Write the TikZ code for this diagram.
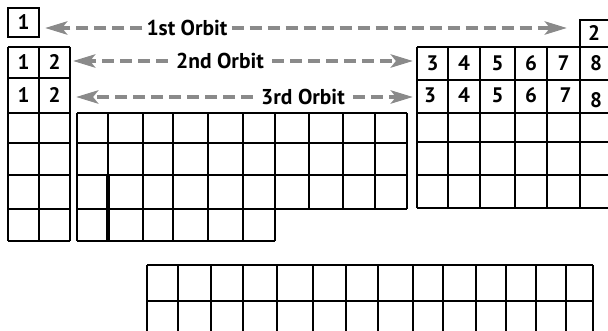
\documentclass[tikz,border=0pt]{standalone}
\usepackage{fontspec}
\setmainfont{PT Sans}
\usetikzlibrary{arrows.meta}
\definecolor{arrowgray}{HTML}{8A8A8A}
\tikzset{
  gridline/.style={line width=2pt, black},
  thickline/.style={line width=4pt, black},
  digit/.style={font=\bfseries\fontsize{21}{21}\selectfont, inner sep=0pt},
  orbitlabel/.style={font=\bfseries\fontsize{21.5}{21.5}\selectfont, inner sep=4pt},
  orbitarrow/.style={arrowgray, line width=4.5pt, dash pattern=on 12pt off 6pt,
     -{Stealth[length=22pt,width=13pt,inset=5pt]}},
}
\begin{document}
\begin{tikzpicture}[x=1pt,y=-1pt]
\useasboundingbox (0,0) rectangle (608,331);
\clip (0,0) rectangle (608,331);
% box 1
\draw[gridline] (8,8) rectangle (39,37);
\node[digit] (b1) at (23.5,22.5) {1};
% left column block
\foreach \x in {8,39,70} \draw[gridline] (\x,47) -- (\x,241);
\foreach \y in {47,78,113,143,175,209,241} \draw[gridline] (8,\y) -- (70,\y);
\node[digit] (l21) at (23.5,62.5) {1};
\node[digit] (l22) at (54.5,62.5) {2};
\node[digit] (l31) at (23.5,95) {1};
\node[digit] (l32) at (54.5,95) {2};
% middle block
\foreach \x in {77,108,143,173,208,243,275} \draw[gridline] (\x,113) -- (\x,241);
\foreach \x in {309,343,375,407} \draw[gridline] (\x,113) -- (\x,209);
\foreach \y in {113,143,175,209} \draw[gridline] (77,\y) -- (407,\y);
\draw[gridline] (77,241) -- (275,241);
\draw[thickline] (108,175) -- (108,241);
% right block
\foreach \x in {417,448,480,515,547,580,612} \draw[gridline] (\x,47) -- (\x,208);
\foreach \y in {47,80,113,142,175,208} \draw[gridline] (417,\y) -- (612,\y);
\draw[gridline] (580,47) -- (580,20) -- (612,20);
\node[digit] (r02) at (594,33.5) {2};
\foreach \d/\c in {3/432.5,4/464,5/497.5,6/531,7/563.5,8/596}{
  \node[digit] (ra\d) at (\c,63.5) {\d};
}
\foreach \d/\c in {3/430,4/464,5/497.5,6/531,7/565.5}{
  \node[digit] (rb\d) at (\c,95) {\d};
}
\node[digit] (rb8) at (596,100) {8};
% bottom block
\foreach \x in {147,178,211,243,277,313,346,378,413,443,476,506,536,566,593}
  \draw[gridline] (\x,265) -- (\x,340);
\foreach \y in {265,301} \draw[gridline] (147,\y) -- (593,\y);
% orbit arrows
\coordinate (o1l) at (45,28);
\coordinate (o1r) at (567,28);
\node[orbitlabel] (o1) at (187,28) {1st Orbit};
\draw[orbitarrow] (o1.west) -- (o1l);
\draw[orbitarrow] (o1.east) -- (o1r);
\coordinate (o2l) at (73,61);
\coordinate (o2r) at (413,61);
\node[orbitlabel] (o2) at (220,61) {2nd Orbit};
\draw[orbitarrow] ([xshift=-4pt]o2.west) -- (o2l);
\draw[orbitarrow] ([xshift=4pt]o2.east) -- (o2r);
\coordinate (o3l) at (76,97);
\coordinate (o3r) at (413,97);
\node[orbitlabel] (o3) at (303,97) {3rd Orbit};
\draw[orbitarrow] ([xshift=-4pt]o3.west) -- (o3l);
\draw[orbitarrow] ([xshift=4pt]o3.east) -- (o3r);
\end{tikzpicture}
\end{document}
